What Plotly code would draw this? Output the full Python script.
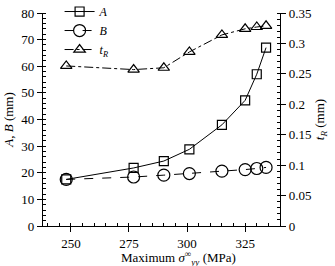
import plotly.graph_objects as go

stress = [248, 277, 290, 301, 315, 325, 330, 334]
A_vals = [17.5, 21.8, 24.4, 28.8, 38.0, 47.2, 57.0, 67.0]
B_vals = [17.5, 18.4, 19.1, 19.7, 20.6, 21.2, 21.6, 22.0]
tR_vals = [0.263, 0.257, 0.260, 0.286, 0.314, 0.324, 0.327, 0.329]

FONT = "Liberation Serif"

fig = go.Figure()
fig.add_trace(go.Scatter(
    x=stress, y=A_vals, name="<i>A</i>", mode="lines+markers",
    line=dict(color="black", width=1, dash="solid"),
    marker=dict(symbol="square-open", size=9, color="black", line=dict(width=1.2)),
))
fig.add_trace(go.Scatter(
    x=stress, y=B_vals, name="<i>B</i>", mode="lines+markers",
    line=dict(color="black", width=1, dash="dash"),
    marker=dict(symbol="circle-open", size=12, color="black", line=dict(width=1.2)),
))
fig.add_trace(go.Scatter(
    x=stress, y=tR_vals, name="<i>t<sub>R</sub></i>", mode="lines+markers",
    yaxis="y2",
    line=dict(color="black", width=1, dash="dashdot"),
    marker=dict(symbol="triangle-up-open", size=10, color="black", line=dict(width=1.2)),
))

fig.add_annotation(
    text="Maximum <i>σ</i><sup>∞</sup><sub><i>yy</i></sub> (MPa)",
    xref="paper", yref="paper", x=0.57, y=-0.1, xanchor="center", yanchor="top",
    showarrow=False, font=dict(size=13, family=FONT, color="black"),
)

fig.update_layout(
    width=335, height=266,
    margin=dict(l=43, r=55, t=13, b=40, autoexpand=False),
    paper_bgcolor="white", plot_bgcolor="white",
    font=dict(family=FONT, size=13, color="black"),
    showlegend=True,
    legend=dict(x=0.07, y=1.075, xanchor="left", yanchor="top",
                bgcolor="rgba(0,0,0,0)", font=dict(size=12, family=FONT),
                itemwidth=30, tracegroupgap=0),
    xaxis=dict(
        range=[238, 340], tickvals=[250, 275, 300, 325],
        showline=True, linecolor="black", linewidth=1.3, mirror=False,
        ticks="outside", ticklen=5, tickcolor="black",
        minor=dict(dtick=5, ticks="inside", ticklen=3, tickcolor="black", tick0=250),
        showgrid=False, zeroline=False,
        tickfont=dict(size=13),
    ),
    yaxis=dict(
        range=[0, 80], dtick=10,
        showline=True, linecolor="black", linewidth=1.3,
        ticks="outside", ticklen=5, tickcolor="black",
        minor=dict(dtick=2, ticks="inside", ticklen=3, tickcolor="black"),
        showgrid=False, zeroline=False,
        title=dict(text="<i>A</i>, <i>B</i> (mm)", standoff=4, font=dict(size=13)),
        tickfont=dict(size=13),
    ),
    yaxis2=dict(
        range=[0, 0.35], dtick=0.05, overlaying="y", side="right",
        showline=True, linecolor="black", linewidth=1.3,
        ticks="outside", ticklen=5, tickcolor="black",
        minor=dict(dtick=0.01, ticks="inside", ticklen=3, tickcolor="black"),
        showgrid=False, zeroline=False,
        title=dict(text="<i>t<sub>R</sub></i> (mm)", standoff=4, font=dict(size=13)),
        tickfont=dict(size=13),
    ),
)

fig.write_html("out.html")
